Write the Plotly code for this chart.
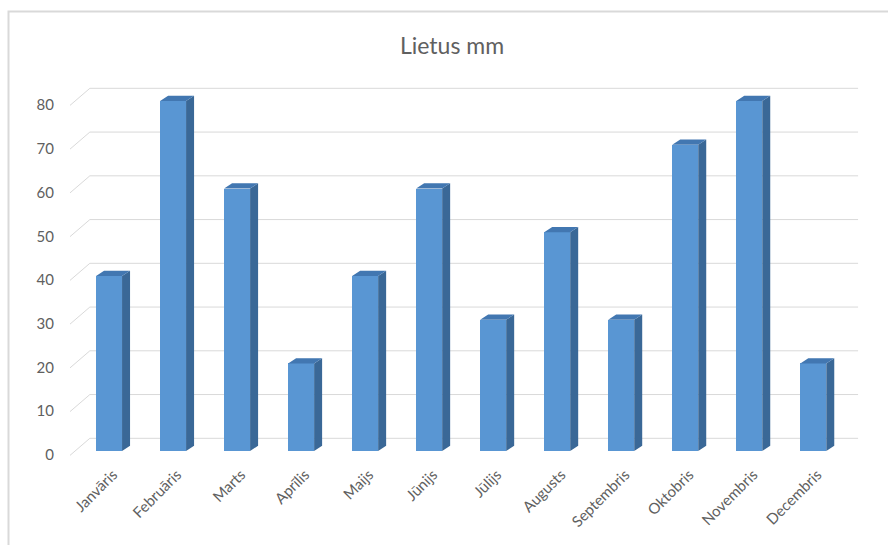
import plotly.graph_objects as go

months = ["Janvāris", "Februāris", "Marts", "Aprīlis", "Maijs", "Jūnijs",
          "Jūlijs", "Augusts", "Septembris", "Oktobris", "Novembris", "Decembris"]
rain = [40, 80, 60, 20, 40, 60, 30, 50, 30, 70, 80, 20]
yticks = [0, 10, 20, 30, 40, 50, 60, 70, 80]

# geometry (styling of the pseudo-3D look)
W = 0.406          # bar width (category units)
DX, DY = 0.125, 1.2    # bar depth offset
XL, XR = -0.61, 11.73  # x range
YB, YT = -2.06, 83.66  # y range
GX0, GDX, GXR = -0.61, 0.31, 11.70  # gridline geometry
GF, GB = -1.0, 2.9

FRONT = "#5996d3"
SIDE = "#3a6897"
TOP = "#4277b1"
GRID = "#d9d9d9"
TXT = "#606060"

xs = list(range(len(months)))

fig = go.Figure()

# front faces
fig.add_trace(go.Bar(x=xs, y=rain, width=W, marker=dict(color=FRONT, line=dict(width=0)),
                     hoverinfo="skip", showlegend=False))

# side faces
sx, sy = [], []
for i, v in zip(xs, rain):
    r = i + W / 2
    sx += [r, r + DX, r + DX, r, r, None]
    sy += [0, DY, v + DY, v, 0, None]
fig.add_trace(go.Scatter(x=sx, y=sy, mode="lines", fill="toself", fillcolor=SIDE,
                         line=dict(width=0, color=SIDE), hoverinfo="skip", showlegend=False))

# top faces
tx, ty = [], []
for i, v in zip(xs, rain):
    l, r = i - W / 2, i + W / 2
    tx += [l, l + DX, r + DX, r, l, None]
    ty += [v, v + DY, v + DY, v, v, None]
fig.add_trace(go.Scatter(x=tx, y=ty, mode="lines", fill="toself", fillcolor=TOP,
                         line=dict(width=0, color=TOP), hoverinfo="skip", showlegend=False))

# back-wall gridlines (below the bars)
shapes = []
for v in yticks:
    shapes.append(dict(type="line", xref="x", yref="y", x0=GX0, y0=v + GF,
                       x1=GX0 + GDX, y1=v + GB, line=dict(color=GRID, width=1), layer="below"))
    shapes.append(dict(type="line", xref="x", yref="y", x0=GX0 + GDX, y0=v + GB,
                       x1=GXR, y1=v + GB, line=dict(color=GRID, width=1), layer="below"))

# chart border
shapes.append(dict(type="rect", xref="paper", yref="paper",
                   x0=(8.5 - 70) / 790, x1=(900 - 70) / 790,
                   y0=(460 - 560) / 375, y1=(460 - 11.5) / 375,
                   line=dict(color=GRID, width=2), fillcolor="rgba(0,0,0,0)", layer="below"))

fig.update_layout(
    width=888, height=545,
    margin=dict(l=70, r=28, t=85, b=85),
    paper_bgcolor="white", plot_bgcolor="white",
    font=dict(family="Lato", color=TXT, size=15),
    title=dict(text="Lietus mm", x=452 / 888, xref="container", xanchor="center",
               y=1 - 46 / 545, yref="container", yanchor="middle",
               font=dict(family="Lato", size=23, color=TXT)),
    shapes=shapes,
    bargap=0,
    showlegend=False,
)
fig.update_xaxes(range=[XL, XR], tickmode="array", tickvals=xs, ticktext=months,
                 tickangle=-45, showgrid=False, zeroline=False, showline=False,
                 ticklabelshift=4, ticklabelstandoff=2,
                 tickfont=dict(family="Lato", size=15, color=TXT))
fig.update_yaxes(range=[YB, YT], tickmode="array", tickvals=yticks,
                 ticktext=[str(v) for v in yticks], showgrid=False, zeroline=False,
                 showline=False, ticklabelstandoff=15, ticklabelshift=4,
                 tickfont=dict(family="Lato", size=15, color=TXT))

fig.write_html("out.html")
